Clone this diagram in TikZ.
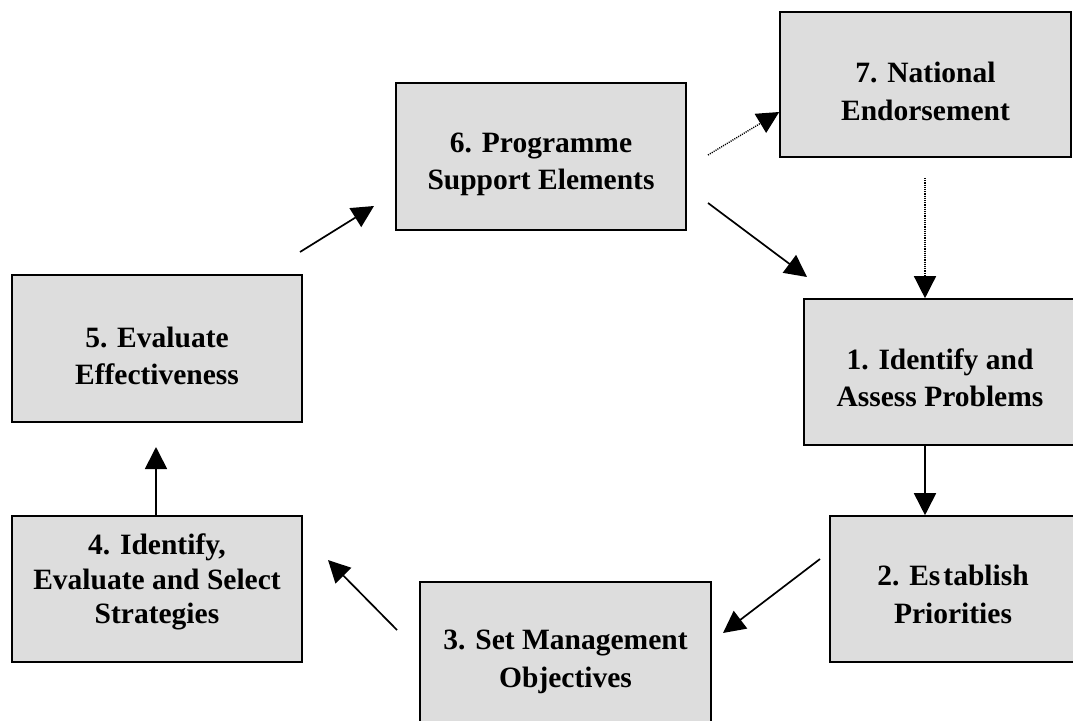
\documentclass[tikz,border=0pt]{standalone}
\usepackage{fontspec}
\setmainfont{Liberation Serif}
\usetikzlibrary{arrows.meta}
\definecolor{boxgray}{RGB}{221,221,221}
\begin{document}
\begin{tikzpicture}[x=1pt,y=-1pt,
  stepbox/.style={draw=black, fill=boxgray, line width=1.6pt, rectangle, inner sep=0pt},
  txt/.style={align=center, font=\fontsize{29.5}{37.5}\selectfont\bfseries, inner sep=0pt},
  arr/.style={line width=1.7pt, -{Triangle[length=22pt,width=22pt]}},
  dotarr/.style={arr, line width=1.4pt, dash pattern=on 1.1pt off 1.1pt}]
\useasboundingbox (0,0) rectangle (1073,720);
\clip (0,0) rectangle (1073,720);
% boxes
\node[stepbox, minimum width=291pt, minimum height=145pt] (b7) at (925.5,84.5) {};
\node[stepbox, minimum width=290pt, minimum height=147pt] (b6) at (541,156.5) {};
\node[stepbox, minimum width=290pt, minimum height=147pt] (b5) at (157,348.5) {};
\node[stepbox, minimum width=272pt, minimum height=146pt] (b1) at (940,372) {};
\node[stepbox, minimum width=246pt, minimum height=146pt] (b2) at (953,589) {};
\node[stepbox, minimum width=291pt, minimum height=146pt] (b3) at (565.5,655) {};
\node[stepbox, minimum width=290pt, minimum height=146pt] (b4) at (157,589) {};
% texts
\node[txt] (t7) at ([yshift=-7pt]b7.center) {7. National\\Endorsement};
\node[txt] (t6) at ([yshift=-8pt]b6.center) {6. Programme\\Support Elements};
\node[txt] (t5) at ([yshift=-7.5pt]b5.center) {5. Evaluate\\Effectiveness};
\node[txt] (t1) at ([yshift=-6pt]b1.center) {1. Identify and\\Assess Problems};
\node[txt] (t2) at ([yshift=-5.5pt]b2.center) {2. Es\kern3pt tablish\\Priorities};
\node[txt] (t3) at ([yshift=-7pt]b3.center) {3. Set Management\\Objectives};
\node[txt, font=\fontsize{29.5}{34.5}\selectfont\bfseries] (t4) at ([yshift=7pt]b4.center) {4. Identify,\\Evaluate and Select\\Strategies};
% free ends of connectors
\coordinate (s67) at (708,155);
\coordinate (s61) at (708,203);
\coordinate (e61) at (807,277);
\coordinate (s71) at (925,178);
\coordinate (s23) at (820,559);
\coordinate (e23) at (723,633);
\coordinate (s34) at (397,630);
\coordinate (e34) at (328,560);
\coordinate (e45) at (156,447);
\coordinate (s56) at (300,252);
\coordinate (e56) at (374,206);
% connectors
\draw[dotarr] (s67) -- (b7.west |- 0,112);
\draw[arr] (s61) -- (e61);
\draw[dotarr] (s71) -- (b1.north -| 925,0);
\draw[arr] (b1.south -| 925,0) -- (b2.north -| 925,0);
\draw[arr] (s23) -- (e23);
\draw[arr] (s34) -- (e34);
\draw[arr] (b4.north -| 156,0) -- (e45);
\draw[arr] (s56) -- (e56);
\end{tikzpicture}
\end{document}
